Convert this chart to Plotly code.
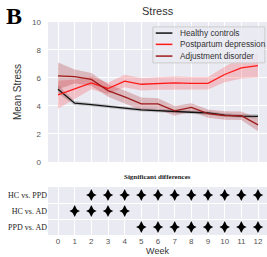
import plotly.graph_objects as go

weeks = list(range(13))
hc_mean = [5.2, 4.2, 4.1, 4.0, 3.85, 3.72, 3.65, 3.6, 3.55, 3.5, 3.35, 3.28, 3.25]
hc_err = [0.3, 0.15, 0.12, 0.12, 0.12, 0.12, 0.12, 0.12, 0.12, 0.12, 0.12, 0.12, 0.15]
ppd_mean = [4.8, 5.2, 5.65, 5.25, 5.78, 5.55, 5.6, 5.65, 5.62, 5.62, 6.25, 6.72, 6.88]
ppd_err = [1.0, 0.7, 0.45, 0.4, 0.45, 0.45, 0.45, 0.45, 0.45, 0.45, 0.55, 0.75, 0.85]
ad_mean = [6.15, 6.1, 5.9, 5.1, 4.65, 4.15, 4.15, 3.65, 3.9, 3.45, 3.32, 3.3, 2.65]
ad_err = [0.95, 0.5, 0.45, 0.45, 0.45, 0.45, 0.4, 0.35, 0.3, 0.3, 0.3, 0.3, 0.45]

series_names = ["Healthy controls", "Postpartum depression", "Adjustment disorder"]
line_colors = ["#111111", "#ff1a1a", "#9e1b1b"]
band_colors = ["rgba(60,60,60,0.25)", "rgba(255,40,40,0.22)", "rgba(170,30,30,0.25)"]

comparisons = ["HC vs. PPD", "HC vs. AD", "PPD vs. AD"]
sig_weeks = [
    [2, 3, 4, 5, 6, 7, 8, 9, 10, 11, 12],
    [1, 2, 3, 4],
    [5, 6, 7, 8, 9, 10, 11, 12],
]

fig = go.Figure()

means = [hc_mean, ppd_mean, ad_mean]
errs = [hc_err, ppd_err, ad_err]
for name, m, e, lc, bc in zip(series_names, means, errs, line_colors, band_colors):
    upper = [a + b for a, b in zip(m, e)]
    lower = [a - b for a, b in zip(m, e)]
    fig.add_trace(go.Scatter(
        x=weeks + weeks[::-1], y=upper + lower[::-1], fill="toself",
        fillcolor=bc, line=dict(width=0), mode="lines", hoverinfo="skip",
        showlegend=False, xaxis="x", yaxis="y"))
for name, m, lc in zip(series_names, means, line_colors):
    fig.add_trace(go.Scatter(
        x=weeks, y=m, mode="lines", name=name,
        line=dict(color=lc, width=1.3), showlegend=False, xaxis="x", yaxis="y"))

for i, (comp, ws) in enumerate(zip(comparisons, sig_weeks)):
    for sym, sz in (("diamond-tall", 8.5), ("diamond-wide", 7.5)):
        fig.add_trace(go.Scatter(
            x=ws, y=[i] * len(ws), mode="markers", showlegend=False,
            marker=dict(symbol=sym, size=sz, color="black", line=dict(width=0)),
            xaxis="x2", yaxis="y2"))

bg = "#EAEAF2"
tickfont = dict(family="Liberation Sans, Arial", size=8, color="#555555")
fig.update_layout(
    width=267, height=257,
    margin=dict(l=48, r=0, t=22, b=22, autoexpand=False),
    paper_bgcolor="white", plot_bgcolor=bg,
    xaxis=dict(domain=[0, 1], range=[-0.6, 12.54], tickvals=weeks, showticklabels=False,
               showgrid=True, gridcolor="white", gridwidth=1, zeroline=False,
               showline=False, anchor="y", automargin=False),
    yaxis=dict(domain=[0.343, 1.0], range=[0, 10], tickvals=[0, 2, 4, 6, 8, 10],
               showgrid=True, gridcolor="white", gridwidth=1, zeroline=False,
               tickfont=tickfont, ticks="", ticklabelstandoff=6, automargin=False,
               title=dict(text="Mean Stress", font=dict(family="Liberation Sans, Arial", size=10, color="#333333"), standoff=8)),
    xaxis2=dict(domain=[0, 1], range=[-0.6, 12.54], tickvals=weeks, anchor="y2",
                showgrid=True, gridcolor="white", gridwidth=1, zeroline=False,
                tickfont=tickfont, ticks="", ticklen=0, automargin=False,
                title=dict(text="Week", font=dict(family="Liberation Sans, Arial", size=9, color="#333333"), standoff=0)),
    yaxis2=dict(domain=[0, 0.225], range=[2.5, -0.5], tickvals=[0, 1, 2], ticktext=comparisons,
                showgrid=False, zeroline=False, ticks="", anchor="x2", automargin=False,
                tickfont=dict(family="Liberation Serif, Times New Roman", size=8, color="#222222"),
                minor=dict(tickvals=[0.5, 1.5], showgrid=True, gridcolor="white", gridwidth=1)),
)

# Legend (drawn manually)
fig.add_shape(type="rect", xref="paper", yref="paper", x0=0.479, x1=0.99, y0=0.808, y1=0.977,
              fillcolor="rgba(234,234,242,0.85)", line=dict(color="#cccccc", width=1))
leg_y = [0.948, 0.895, 0.840]
for name, lc, yy in zip(series_names, line_colors, leg_y):
    fig.add_shape(type="line", xref="paper", yref="paper", x0=0.492, x1=0.568, y0=yy, y1=yy,
                  line=dict(color=lc, width=1.5))
    fig.add_annotation(xref="paper", yref="paper", x=0.595, y=yy, text=name, showarrow=False,
                       xanchor="left", yanchor="middle",
                       font=dict(family="Liberation Sans, Arial", size=8.3, color="#333333"))

fig.add_annotation(xref="paper", yref="paper", x=0.5, y=1.0, yshift=3, text="Stress", showarrow=False,
                   xanchor="center", yanchor="bottom",
                   font=dict(family="Liberation Sans, Arial", size=11, color="#333333"))
fig.add_annotation(xref="paper", yref="paper", x=0.5, y=0.225, yshift=4, text="<b>Significant differences</b>",
                   showarrow=False, xanchor="center", yanchor="bottom",
                   font=dict(family="Liberation Serif, Times New Roman", size=7, color="#222222"))
fig.add_annotation(xref="paper", yref="paper", x=-0.2, xanchor="left", y=1.1, yanchor="top",
                   text="<b>B</b>", showarrow=False,
                   font=dict(family="Liberation Serif, Times New Roman", size=24, color="black"))

fig.write_html("out.html", config={"displayModeBar": False},
               post_script="document.body.style.margin='0';document.body.style.padding='0';document.body.style.overflow='hidden';")
